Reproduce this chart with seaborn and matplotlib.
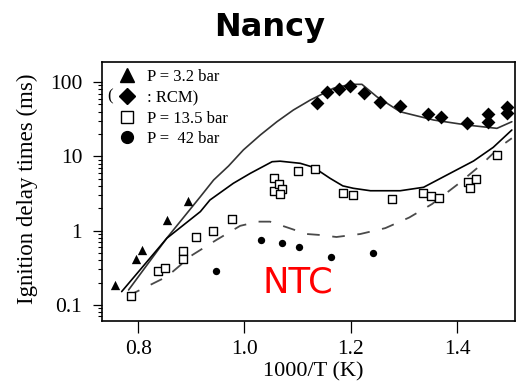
import matplotlib
matplotlib.use("Agg")
import matplotlib.pyplot as plt
from matplotlib.lines import Line2D
from matplotlib.ticker import LogLocator, NullFormatter, NullLocator
import seaborn as sns

# Measured ignition delay times (ms) versus 1000/T (K)
p32_x = [0.757, 0.796, 0.807, 0.854, 0.893]
p32_y = [0.185, 0.41, 0.54, 1.39, 2.52]

rcm_x = [1.137, 1.155, 1.177, 1.199, 1.225, 1.255, 1.292, 1.345, 1.370,
         1.418, 1.458, 1.458, 1.494, 1.494]
rcm_y = [51.7, 72.7, 80.5, 89.2, 71.8, 54.3, 47.5, 36.7, 33.8,
         28.1, 37.1, 29.0, 46.1, 38.3]

p135_x = [0.786, 0.838, 0.851, 0.885, 0.885, 0.909, 0.941, 0.976, 1.055,
          1.055, 1.065, 1.070, 1.067, 1.100, 1.132, 1.186, 1.205, 1.277,
          1.336, 1.351, 1.366, 1.421, 1.435, 1.425, 1.475]
p135_y = [0.133, 0.286, 0.317, 0.536, 0.415, 0.813, 1.0, 1.42, 5.15,
          3.44, 4.20, 3.63, 3.08, 6.40, 6.68, 3.18, 3.01, 2.64,
          3.18, 2.95, 2.78, 4.47, 4.95, 3.78, 10.4]

p42_x = [0.947, 1.031, 1.070, 1.102, 1.163, 1.241]
p42_y = [0.288, 0.747, 0.687, 0.596, 0.437, 0.494]

# Simulated curves
sim32_x = [0.782, 0.854, 0.917, 0.942, 0.970, 0.998, 1.030, 1.061, 1.092,
           1.124, 1.149, 1.167, 1.199, 1.221, 1.249, 1.293, 1.356, 1.418,
           1.475, 1.503]
sim32_y = [0.159, 0.794, 2.86, 4.80, 7.40, 12.2, 19.4, 29.2, 42.0,
           57.3, 70.5, 82.2, 93.1, 93.1, 63.4, 39.8, 30.8, 26.4,
           23.8, 29.2]

sim135_x = [0.769, 0.854, 0.917, 0.935, 0.979, 1.011, 1.052, 1.067, 1.105,
            1.130, 1.161, 1.185, 1.205, 1.237, 1.293, 1.337, 1.387, 1.431,
            1.468, 1.503]
sim135_y = [0.151, 0.79, 1.80, 2.58, 4.33, 5.90, 8.46, 8.6, 8.05,
            7.11, 5.06, 4.0, 3.71, 3.44, 3.44, 3.83, 5.91, 8.65,
            13.2, 22.6]

sim42_x = [0.781, 0.854, 0.902, 0.947, 0.992, 1.026, 1.048, 1.081, 1.117,
           1.142, 1.173, 1.218, 1.265, 1.310, 1.353, 1.402, 1.447, 1.481, 1.503]
sim42_y = [0.132, 0.240, 0.470, 0.747, 1.16, 1.32, 1.32, 1.10, 0.90,
           0.873, 0.82, 0.90, 1.08, 1.50, 2.28, 4.24, 7.87, 13.5, 17.5]

x_ticks = [0.8, 1.0, 1.2, 1.4]
x_ticklabels = ["0.8", "1.0", "1.2", "1.4"]
y_ticks = [0.1, 1, 10, 100]
y_ticklabels = ["0.1", "1", "10", "100"]

sns.set_style("ticks")
plt.rcParams["font.family"] = ["Liberation Serif", "DejaVu Serif"]
for key in ("text.color", "axes.labelcolor", "xtick.color", "ytick.color",
            "axes.edgecolor"):
    plt.rcParams[key] = "black"

fig = plt.figure(figsize=(5.21, 3.83), dpi=100)
ax = fig.add_axes([0.1958, 0.1619, 0.7927, 0.6762])

sns.lineplot(x=sim32_x, y=sim32_y, sort=False, estimator=None, ax=ax,
             color="#333333", linewidth=1.2)
sns.lineplot(x=sim135_x, y=sim135_y, sort=False, estimator=None, ax=ax,
             color="black", linewidth=1.2)
sns.lineplot(x=sim42_x, y=sim42_y, sort=False, estimator=None, ax=ax,
             color="#4a4a4a", linewidth=1.3, linestyle=(0, (7, 7)))

sns.scatterplot(x=p32_x, y=p32_y, marker="^", s=45, color="black",
                linewidth=0, ax=ax, zorder=3)
sns.scatterplot(x=rcm_x, y=rcm_y, marker="D", s=50, color="black",
                linewidth=0, ax=ax, zorder=3)
sns.scatterplot(x=p135_x, y=p135_y, marker="s", s=30, facecolor="white",
                edgecolor="black", linewidth=1.0, ax=ax, zorder=3)
sns.scatterplot(x=p42_x, y=p42_y, marker="o", s=28, color="black",
                linewidth=0, ax=ax, zorder=3)

ax.set_yscale("log")
ax.set_xlim(0.732, 1.509)
ax.set_ylim(0.0607, 186)

ax.set_xticks(x_ticks, labels=x_ticklabels)
ax.xaxis.set_minor_locator(NullLocator())
ax.set_yticks(y_ticks, labels=y_ticklabels)
ax.yaxis.set_minor_locator(LogLocator(base=10, subs=range(2, 10)))
ax.yaxis.set_minor_formatter(NullFormatter())

ax.tick_params(axis="x", which="major", direction="out", length=8.6,
               width=0.9, pad=5.3, labelsize=15.5, top=False)
ax.tick_params(axis="y", which="major", direction="out", length=6.8,
               width=0.9, pad=7.4, labelsize=15.5, right=False)
ax.tick_params(axis="y", which="minor", direction="out", length=3.2,
               width=0.8, right=False)
for side in ax.spines.values():
    side.set_linewidth(1.2)
    side.set_color("black")

ax.set_xlabel("1000/T (K)", fontsize=16)
ax.xaxis.set_label_coords(0.511, -0.158)
ax.set_ylabel("Ignition delay times (ms)", fontsize=16.5)
ax.yaxis.set_label_coords(-0.155, 0.51)

handles = [
    Line2D([], [], ls="none", marker="^", ms=10, color="black"),
    Line2D([], [], ls="none", marker="D", ms=8.5, color="black"),
    Line2D([], [], ls="none", marker="s", ms=8.5, mfc="white", mec="black", mew=1.0),
    Line2D([], [], ls="none", marker="o", ms=8.5, color="black"),
]
labels = ["P = 3.2 bar", ": RCM)", "P = 13.5 bar", "P =  42 bar"]
ax.legend(handles, labels, loc="upper left", bbox_to_anchor=(0.0404, 0.972),
          frameon=False, borderaxespad=0, borderpad=0, fontsize=12,
          handlelength=1.0, handletextpad=0.7, labelspacing=0.28)
ax.text(0.012, 0.866, "(", transform=ax.transAxes, fontsize=12,
        va="center", ha="left")

ax.text(1.033, 0.149, "NTC", color="red", fontsize=25.5,
        family="DejaVu Sans", va="baseline", transform=ax.transData)

fig.text(0.518, 1 - 36 / 383, "Nancy", fontsize=23, fontweight="bold",
         family="DejaVu Sans", color="black", ha="center", va="baseline")

fig.savefig("out.png", dpi=100, facecolor="white")
